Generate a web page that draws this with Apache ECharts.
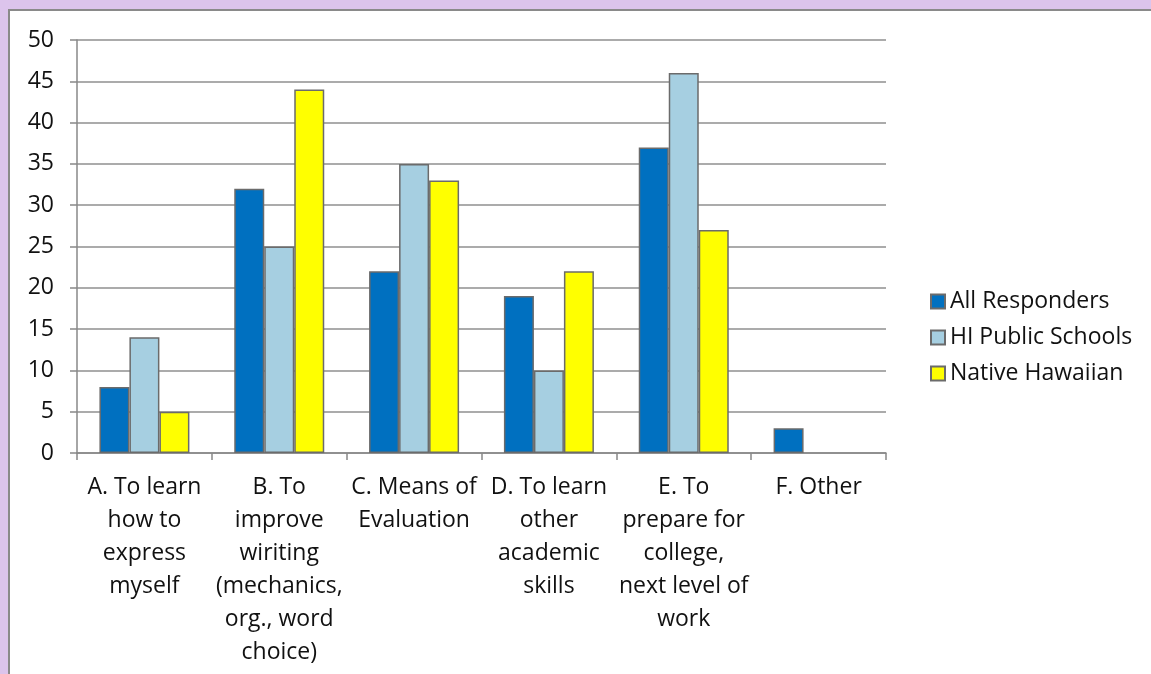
<!DOCTYPE html>
<html>
<head>
<meta charset="utf-8">
<script src="https://cdn.jsdelivr.net/npm/echarts@6/dist/echarts.min.js"></script>
<style>
  html, body { margin: 0; padding: 0; width: 1151px; height: 674px; overflow: hidden; background: #dcc4ec; }
  #frame { position: absolute; left: 8px; top: 9px; width: 1143px; height: 665px; border-left: 2px solid #8a8a8a; border-top: 2px solid #8a8a8a; background: #fff; }
  #chart { width: 1141px; height: 663px; }
</style>
</head>
<body>
<div id="frame"><div id="chart"></div></div>
<script>
// categories (wrapped as in the original)
const categories = [
  'A. To learn\nhow to\nexpress\nmyself',
  'B. To\nimprove\nwiriting\n(mechanics,\norg., word\nchoice)',
  'C. Means of\nEvaluation',
  'D. To learn\nother\nacademic\nskills',
  'E. To\nprepare for\ncollege,\nnext level of\nwork',
  'F. Other'
]
const allResponders = [8, 32, 22, 19, 37, 3]
const hiPublicSchools = [14, 25, 35, 10, 46, '-']
const nativeHawaiian = [5, 44, 33, 22, 27, '-']

const chart = echarts.init(document.getElementById('chart'))

const font = 'Open Sans'
const barBorder = '#6b6b6b'

const makeSeries = (name, data, color) => ({
  name,
  type: 'bar',
  data,
  barWidth: 30,
  barGap: '0%',
  itemStyle: { color, borderColor: barBorder, borderWidth: 1.5 },
  emphasis: { disabled: true },
})

chart.setOption({
  animation: false,
  textStyle: { fontFamily: font },
  grid: { left: 67, top: 29, right: 265, bottom: 221 },
  legend: {
    orient: 'vertical',
    left: 915,
    top: 274,
    itemWidth: 14,
    itemHeight: 14,
    itemGap: 13,
    icon: 'rect',
    textStyle: { fontFamily: font, fontSize: 23, lineHeight: 22, color: '#111' },
    data: ['All Responders', 'HI Public Schools', 'Native Hawaiian'],
  },
  xAxis: {
    type: 'category',
    data: categories,
    axisLine: { lineStyle: { color: '#888', width: 1.5 } },
    axisTick: { show: true, length: 7, lineStyle: { color: '#888', width: 1.5 } },
    axisLabel: {
      interval: 0,
      margin: 18,
      fontSize: 23,
      lineHeight: 33,
      color: '#111',
      align: 'center',
    },
  },
  yAxis: {
    type: 'value',
    min: 0,
    max: 50,
    interval: 5,
    axisLine: { show: true, lineStyle: { color: '#888', width: 1.5 } },
    axisTick: { show: true, length: 7, lineStyle: { color: '#888', width: 1.5 } },
    splitLine: { lineStyle: { color: '#8f8f8f', width: 1.5 } },
    axisLabel: { margin: 23, fontSize: 23, color: '#111' },
  },
  series: [
    makeSeries('All Responders', allResponders, '#0070c0'),
    makeSeries('HI Public Schools', hiPublicSchools, '#a6cfe1'),
    makeSeries('Native Hawaiian', nativeHawaiian, '#ffff00'),
  ],
})
</script>
</body>
</html>
